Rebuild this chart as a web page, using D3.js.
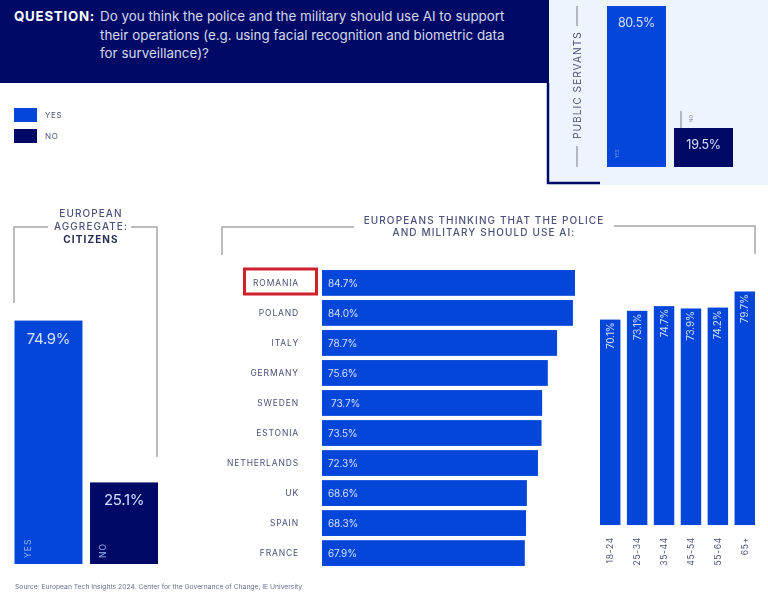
<!DOCTYPE html>
<html>
<head>
<meta charset="utf-8">
<script src="https://cdn.jsdelivr.net/npm/d3@7"></script>
<style>
  body { margin: 0; background: #fff; }
  svg { display: block; font-family: Inter, "Open Sans", sans-serif; filter: blur(0.35px); }
</style>
</head>
<body>
<svg id="chart" width="768" height="592"></svg>
<script>
const questionLines = [
  'Do you think the police and the military should use AI to support',
  'their operations (e.g. using facial recognition and biometric data',
  'for surveillance)?'
]

const answers = ['YES', 'NO']
const citizens = [74.9, 25.1]
const servants = [80.5, 19.5]

const countries = ['ROMANIA', 'POLAND', 'ITALY', 'GERMANY', 'SWEDEN', 'ESTONIA', 'NETHERLANDS', 'UK', 'SPAIN', 'FRANCE']
const countryValues = [84.7, 84.0, 78.7, 75.6, 73.7, 73.5, 72.3, 68.6, 68.3, 67.9]

const ages = ['18-24', '25-34', '35-44', '45-54', '55-64', '65+']
const ageValues = [70.1, 73.1, 74.7, 73.9, 74.2, 79.7]

const BLUE = '#0546da'
const NAVY = '#000a66'
const GREY = '#a8a8a8'
const LABEL = '#4b5078'
const VALUE = '#d3e0ff'

const svg = d3.select('#chart')
const fmt = d => d.toFixed(1) + '%'
const answerColor = d3.scaleOrdinal().domain(answers).range([BLUE, NAVY])

// header and the public servants panel
svg.append('rect').attr('x', 549).attr('y', 0).attr('width', 219).attr('height', 185).attr('fill', '#eef4fc')
svg.append('rect').attr('x', 0).attr('y', 0).attr('width', 549).attr('height', 83).attr('fill', NAVY)
svg.append('path').attr('d', 'M548,83V183H600').attr('fill', 'none').attr('stroke', NAVY).attr('stroke-width', 2.5)

svg.append('text').text('QUESTION:')
  .attr('x', 14).attr('y', 21)
  .attr('fill', '#fff').attr('font-size', 13.3).attr('font-weight', 700).attr('letter-spacing', 0.75)

svg.selectAll('.question')
  .data(questionLines)
  .enter()
  .append('text')
  .attr('class', 'question')
  .text(d => d)
  .attr('x', 100)
  .attr('y', (d, i) => 21 + i * 18.7)
  .attr('fill', '#d5d8ea')
  .attr('font-size', 13.4)

// legend
const legend = svg.selectAll('.legend')
  .data(answers)
  .enter()
  .append('g')
  .attr('class', 'legend')
  .attr('transform', (d, i) => `translate(14,${108 + i * 21})`)

legend.append('rect').attr('width', 23).attr('height', 14).attr('fill', d => answerColor(d))
legend.append('text').text(d => d)
  .attr('x', 31).attr('y', 10)
  .attr('fill', LABEL).attr('font-size', 8).attr('letter-spacing', 0.6)

// yes / no pairs, used by the citizens and the public servants block
function drawPair(values, o) {
  const x = d3.scaleBand().domain(answers).range(o.xRange).paddingInner(o.gap)
  const y = d3.scaleLinear().domain([0, 100]).range([o.base, o.base - o.full])
  const g = svg.append('g')

  g.selectAll('rect')
    .data(values)
    .enter()
    .append('rect')
    .attr('x', (d, i) => x(answers[i]))
    .attr('y', d => y(d))
    .attr('width', x.bandwidth())
    .attr('height', d => o.base - y(d))
    .attr('fill', (d, i) => answerColor(answers[i]))

  g.selectAll('.val')
    .data(values)
    .enter()
    .append('text')
    .attr('class', 'val')
    .text(fmt)
    .attr('x', (d, i) => x(answers[i]) + x.bandwidth() / 2)
    .attr('y', d => y(d) + o.valueDy)
    .attr('text-anchor', 'middle')
    .attr('fill', VALUE)
    .attr('font-size', o.valueSize)
    .attr('letter-spacing', -0.3)
  return x
}

const xCit = drawPair(citizens, { xRange: [14.5, 158], gap: 0.1, base: 564, full: 325, valueDy: 23, valueSize: 15, })
const xPub = drawPair(servants, { xRange: [607, 733], gap: 0.12, base: 167, full: 200, valueDy: 21, valueSize: 12.5 })

svg.selectAll('.citLabel')
  .data(answers)
  .enter()
  .append('text')
  .attr('class', 'citLabel')
  .text(d => d)
  .attr('transform', d => `translate(${xCit(d) + 16},558) rotate(-90)`)
  .attr('fill', '#9db8f0')
  .attr('font-size', 8.5)
  .attr('letter-spacing', 1)

svg.selectAll('.pubLabel')
  .data(answers)
  .enter()
  .append('text')
  .attr('class', 'pubLabel')
  .text(d => d)
  .attr('transform', d => d === 'YES'
    ? `translate(${xPub(d) + 12},158) rotate(-90)`
    : `translate(${xPub(d) + 19},122) rotate(-90)`)
  .attr('fill', d => d === 'YES' ? '#7fa2ee' : '#777b99')
  .attr('font-size', 4.5)

svg.append('path').attr('d', 'M681,111V128').attr('stroke', '#777b99').attr('stroke-width', 1)

// public servants side title
svg.append('text').text('PUBLIC SERVANTS')
  .attr('transform', 'translate(581,139) rotate(-90)')
  .attr('fill', LABEL).attr('font-size', 10.2).attr('letter-spacing', 1)
svg.append('path').attr('d', 'M577,6V26M577,146V167').attr('stroke', '#777b88').attr('stroke-width', 1)

// brackets
svg.selectAll('.bracket')
  .data(['M14,303V227H48M131,227H157V457', 'M222,255V227H354M614,226H755V254'])
  .enter()
  .append('path')
  .attr('class', 'bracket')
  .attr('d', d => d)
  .attr('fill', 'none')
  .attr('stroke', GREY)
  .attr('stroke-width', 1.5)

// block titles
const titles = [
  { text: 'EUROPEAN', x: 91, y: 217, bold: false },
  { text: 'AGGREGATE:', x: 91, y: 230, bold: false },
  { text: 'CITIZENS', x: 91, y: 243, bold: true },
  { text: 'EUROPEANS THINKING THAT THE POLICE', x: 484, y: 224, bold: false },
  { text: 'AND MILITARY SHOULD USE AI:', x: 484, y: 236, bold: false }
]
svg.selectAll('.title')
  .data(titles)
  .enter()
  .append('text')
  .attr('class', 'title')
  .text(d => d.text)
  .attr('x', d => d.x)
  .attr('y', d => d.y)
  .attr('text-anchor', 'middle')
  .attr('fill', d => d.bold ? '#252b55' : LABEL)
  .attr('font-size', 10)
  .attr('font-weight', d => d.bold ? 700 : 500)
  .attr('letter-spacing', 1.1)

// countries
const xCountry = d3.scaleLinear().domain([0, 84.7]).range([322, 575])
const yCountry = d3.scaleBand().domain(countries).range([270, 566]).paddingInner(0.14)

svg.selectAll('.country')
  .data(countryValues)
  .enter()
  .append('rect')
  .attr('class', 'country')
  .attr('x', xCountry(0))
  .attr('y', (d, i) => yCountry(countries[i]))
  .attr('width', d => xCountry(d) - xCountry(0))
  .attr('height', yCountry.bandwidth())
  .attr('fill', BLUE)

svg.selectAll('.countryVal')
  .data(countryValues)
  .enter()
  .append('text')
  .attr('class', 'countryVal')
  .text(fmt)
  .attr('x', (d, i) => countries[i] === 'SWEDEN' ? 331 : 328)
  .attr('y', (d, i) => yCountry(countries[i]) + yCountry.bandwidth() / 2 + 4)
  .attr('fill', VALUE)
  .attr('font-size', 10)
  .attr('letter-spacing', -0.1)

const axisCountry = svg.append('g')
  .attr('transform', 'translate(306,0)')
  .call(d3.axisLeft(yCountry).tickSize(0).tickPadding(7))
axisCountry.select('.domain').remove()
axisCountry.selectAll('text')
  .attr('fill', LABEL)
  .attr('font-size', 8.5)
  .attr('font-family', 'Inter, sans-serif')
  .attr('letter-spacing', 0.85)

svg.append('rect')
  .attr('x', 244.5).attr('y', 269).attr('width', 72).attr('height', 25)
  .attr('fill', 'none').attr('stroke', '#d0202c').attr('stroke-width', 3)

// age groups
const xAge = d3.scaleBand().domain(ages).range([600, 755]).paddingInner(0.24)
const yAge = d3.scaleLinear().domain([0, 100]).range([525, 232])

svg.selectAll('.age')
  .data(ageValues)
  .enter()
  .append('rect')
  .attr('class', 'age')
  .attr('x', (d, i) => xAge(ages[i]))
  .attr('y', d => yAge(d))
  .attr('width', xAge.bandwidth())
  .attr('height', d => 525 - yAge(d))
  .attr('fill', BLUE)

svg.selectAll('.ageVal')
  .data(ageValues)
  .enter()
  .append('text')
  .attr('class', 'ageVal')
  .text(fmt)
  .attr('transform', (d, i) => `translate(${xAge(ages[i]) + xAge.bandwidth() / 2 + 3.5},${yAge(d) + 3}) rotate(-90)`)
  .attr('text-anchor', 'end')
  .attr('fill', VALUE)
  .attr('font-size', 10)
  .attr('letter-spacing', -0.2)

const axisAge = svg.append('g')
  .attr('transform', 'translate(0,525)')
  .call(d3.axisBottom(xAge).tickSize(0).tickPadding(0))
axisAge.select('.domain').remove()
axisAge.selectAll('text')
  .attr('transform', 'translate(3,12) rotate(-90)')
  .attr('text-anchor', 'end')
  .attr('dy', 0)
  .attr('y', 0)
  .attr('fill', LABEL)
  .attr('font-size', 8.5)
  .attr('font-family', 'Inter, sans-serif')
  .attr('letter-spacing', 0.7)

svg.append('text').text('Source: European Tech Insights 2024. Center for the Governance of Change, IE University.')
  .attr('x', 15).attr('y', 589)
  .attr('fill', '#6a7090').attr('font-size', 6.75)
</script>
</body>
</html>
